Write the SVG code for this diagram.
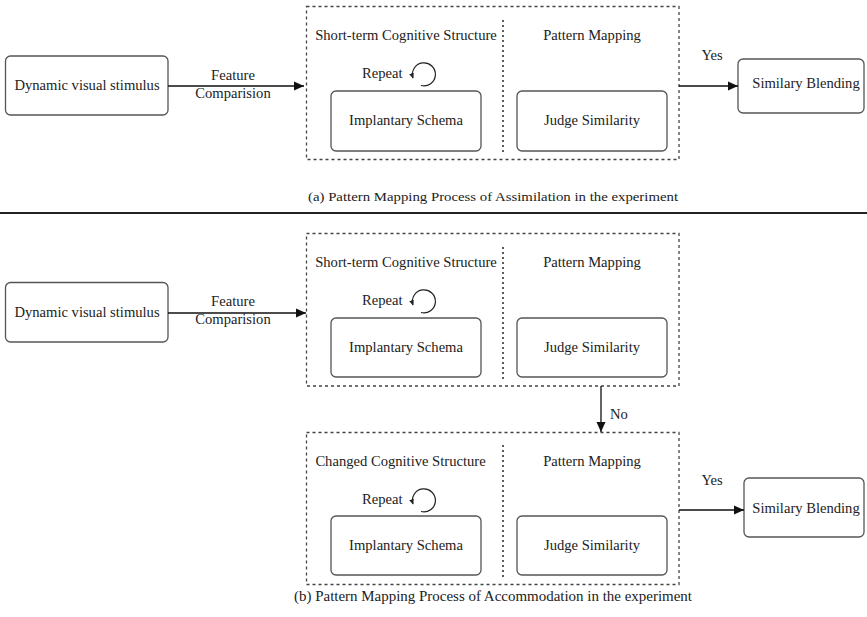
<svg xmlns="http://www.w3.org/2000/svg" width="867" height="617" viewBox="0 0 867 617">
<style>
text{font-family:"Liberation Serif","Times New Roman",serif;font-size:14.6px;fill:#222;}
.c{text-anchor:middle;}
.box{fill:#fff;stroke:#555;stroke-width:1.3;}
.cont{fill:none;stroke:#444;stroke-width:1.3;stroke-dasharray:3 3;}
.div{stroke:#333;stroke-width:1.6;stroke-dasharray:2 3;}
.arr{stroke:#111;stroke-width:1.3;fill:none;}
.loop{stroke:#222;stroke-width:1.2;fill:none;}
</style>
<defs>
<marker id="ah" viewBox="0 0 10 10" refX="10" refY="5" markerWidth="10" markerHeight="10" markerUnits="userSpaceOnUse" orient="auto">
<path d="M0,0.5 L10,5 L0,9.5 z" fill="#111"/>
</marker>
<marker id="sh" viewBox="0 0 10 10" refX="8" refY="5" markerWidth="6" markerHeight="6" markerUnits="userSpaceOnUse" orient="auto">
<path d="M0,1 L9,5 L0,9 z" fill="#222"/>
</marker>
</defs>

<!-- ===== (a) ===== -->
<g id="a_stimulus">
<rect class="box" x="5.5" y="56" width="162.5" height="59" rx="5"/>
<text class="c" x="87" y="90">Dynamic visual stimulus</text>
</g>
<g id="a_container">
<rect class="cont" x="306.5" y="6.5" width="372.5" height="153"/>
<line class="div" x1="503" y1="20" x2="503" y2="153"/>
<text class="c" x="406" y="40">Short-term Cognitive Structure</text>
<text class="c" x="592" y="40">Pattern Mapping</text>
</g>
<g id="a_repeat">
<text x="362" y="78">Repeat</text>
<path class="loop" d="M421 85.5 A11.5 11.5 0 1 0 413 78" marker-end="url(#sh)"/>
</g>
<g id="a_implantary">
<rect class="box" x="331" y="91" width="150" height="60" rx="5"/>
<text class="c" x="406" y="125">Implantary Schema</text>
</g>
<g id="a_judge">
<rect class="box" x="517" y="91" width="150" height="60" rx="5"/>
<text class="c" x="592" y="125">Judge Similarity</text>
</g>
<g id="a_blending">
<rect class="box" x="738" y="59" width="126" height="54" rx="5"/>
<text class="c" x="806" y="87.5">Similary Blending</text>
</g>
<g id="a_connectors">
<line class="arr" x1="168" y1="86" x2="304" y2="86" marker-end="url(#ah)"/>
<text class="c" x="233" y="80">Feature</text>
<text class="c" x="233" y="98">Comparision</text>
<line class="arr" x1="679" y1="86" x2="738" y2="86" marker-end="url(#ah)"/>
<text class="c" x="712" y="60">Yes</text>
</g>
<text id="caption_a" class="c" x="493" y="201" style="font-size:13.5px" textLength="370" lengthAdjust="spacingAndGlyphs">(a) Pattern Mapping Process of  Assimilation in the experiment</text>
<line id="separator" x1="0" y1="213" x2="867" y2="213" stroke="#222" stroke-width="2"/>

<!-- ===== (b) ===== -->
<g id="b_stimulus">
<rect class="box" x="5.5" y="282.5" width="162.5" height="59.5" rx="5"/>
<text class="c" x="87" y="316.5">Dynamic visual stimulus</text>
</g>
<g id="b_container1">
<rect class="cont" x="306.5" y="233.5" width="372.5" height="152.5"/>
<line class="div" x1="503" y1="247" x2="503" y2="380"/>
<text class="c" x="406" y="267">Short-term Cognitive Structure</text>
<text class="c" x="592" y="267">Pattern Mapping</text>
</g>
<g id="b_repeat1">
<text x="362" y="305">Repeat</text>
<path class="loop" d="M421 312.5 A11.5 11.5 0 1 0 413 305" marker-end="url(#sh)"/>
</g>
<g id="b_implantary1">
<rect class="box" x="331" y="318" width="150" height="59" rx="5"/>
<text class="c" x="406" y="352">Implantary Schema</text>
</g>
<g id="b_judge1">
<rect class="box" x="517" y="318" width="150" height="59" rx="5"/>
<text class="c" x="592" y="352">Judge Similarity</text>
</g>
<g id="b_container2">
<rect class="cont" x="306.5" y="432.5" width="372.5" height="152"/>
<line class="div" x1="503" y1="445" x2="503" y2="578"/>
<text class="c" x="400.5" y="466">Changed Cognitive Structure</text>
<text class="c" x="592" y="466">Pattern Mapping</text>
</g>
<g id="b_repeat2">
<text x="362" y="504">Repeat</text>
<path class="loop" d="M421 511.5 A11.5 11.5 0 1 0 413 504" marker-end="url(#sh)"/>
</g>
<g id="b_implantary2">
<rect class="box" x="331" y="516" width="150" height="59" rx="5"/>
<text class="c" x="406" y="550">Implantary Schema</text>
</g>
<g id="b_judge2">
<rect class="box" x="517" y="516" width="150" height="59" rx="5"/>
<text class="c" x="592" y="550">Judge Similarity</text>
</g>
<g id="b_blending">
<rect class="box" x="744" y="478" width="120" height="59" rx="5"/>
<text class="c" x="806" y="513">Similary Blending</text>
</g>
<g id="b_connectors">
<line class="arr" x1="168" y1="313" x2="306" y2="313" marker-end="url(#ah)"/>
<text class="c" x="233" y="306">Feature</text>
<text class="c" x="233" y="324">Comparision</text>
<line class="arr" x1="601" y1="386" x2="601" y2="432" marker-end="url(#ah)"/>
<text x="610" y="419">No</text>
<line class="arr" x1="679" y1="510" x2="744" y2="510" marker-end="url(#ah)"/>
<text class="c" x="712" y="485">Yes</text>
</g>
<text id="caption_b" class="c" x="493" y="601" style="font-size:14px" textLength="398" lengthAdjust="spacingAndGlyphs">(b) Pattern Mapping Process of  Accommodation in the experiment</text>
</svg>
